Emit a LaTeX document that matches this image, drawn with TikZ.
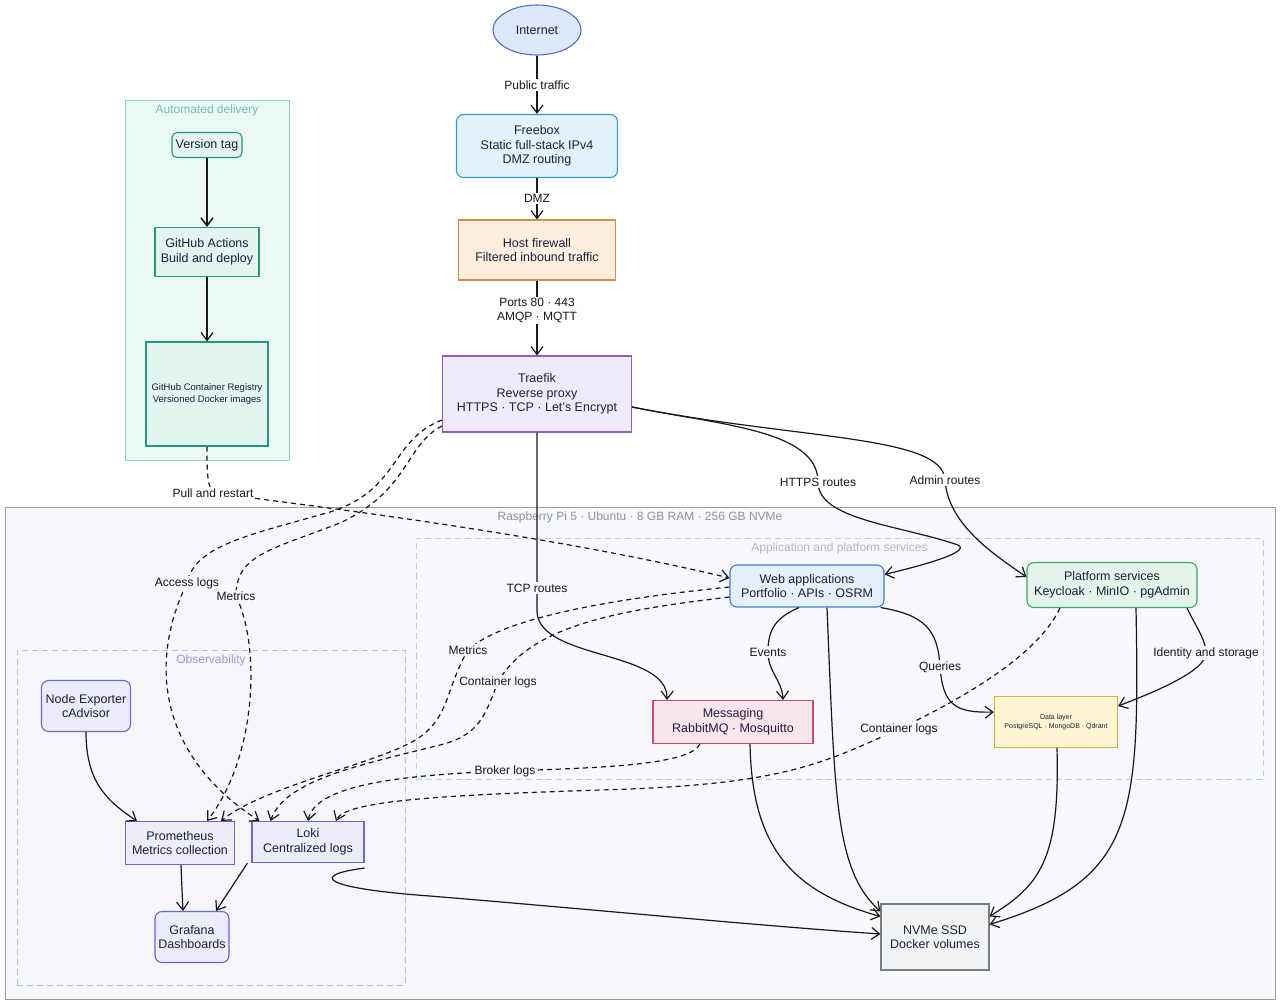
\documentclass[tikz,border=0pt]{standalone}
\usepackage{fontspec}
\setmainfont{Liberation Sans}
\usepackage{tikz}
\usetikzlibrary{positioning,arrows.meta,shapes.geometric}
\definecolor{InkNavy}{RGB}{30,30,62}
\definecolor{InkLine}{RGB}{24,24,24}
\definecolor{InetFill}{RGB}{222,232,250}
\definecolor{InetDraw}{RGB}{80,110,210}
\definecolor{FreeFill}{RGB}{226,243,251}
\definecolor{FreeDraw}{RGB}{55,155,200}
\definecolor{WallFill}{RGB}{253,238,222}
\definecolor{WallDraw}{RGB}{217,140,80}
\definecolor{ProxyFill}{RGB}{240,234,253}
\definecolor{ProxyDraw}{RGB}{140,95,200}
\definecolor{CiFill}{RGB}{236,248,245}
\definecolor{CiDraw}{RGB}{145,212,199}
\definecolor{CiTitle}{RGB}{110,195,178}
\definecolor{CiNode}{RGB}{226,245,240}
\definecolor{CiEdge}{RGB}{40,150,128}
\definecolor{PiFill}{RGB}{246,248,251}
\definecolor{PiDraw}{RGB}{150,160,176}
\definecolor{PiTitle}{RGB}{140,148,162}
\definecolor{AppDraw}{RGB}{200,204,212}
\definecolor{AppTitle}{RGB}{180,184,192}
\definecolor{ObsFill}{RGB}{245,246,252}
\definecolor{ObsDraw}{RGB}{185,188,220}
\definecolor{ObsTitle}{RGB}{155,155,215}
\definecolor{WebFill}{RGB}{229,240,251}
\definecolor{WebDraw}{RGB}{65,125,205}
\definecolor{PlatFill}{RGB}{228,244,234}
\definecolor{PlatDraw}{RGB}{65,165,110}
\definecolor{MsgFill}{RGB}{251,229,236}
\definecolor{MsgDraw}{RGB}{200,75,110}
\definecolor{DataFill}{RGB}{255,245,210}
\definecolor{DataDraw}{RGB}{215,180,65}
\definecolor{DiskFill}{RGB}{241,243,245}
\definecolor{DiskDraw}{RGB}{120,125,132}
\definecolor{MonFill}{RGB}{236,236,251}
\definecolor{MonDraw}{RGB}{105,105,200}

\begin{document}
\begin{tikzpicture}[
    x=1pt,
    y=-1pt,
    font=\fontsize{12.5}{14.5}\selectfont,
    >={Straight Barb[length=8pt,width=12pt]},
    block/.style={
        draw,
        line width=1.1pt,
        align=center,
        text=InkNavy,
        inner sep=2pt
    },
    rblock/.style={
        block,
        rounded corners=7pt
    },
    group/.style={
        draw,
        line width=0.8pt,
        inner sep=0pt
    },
    grouptitle/.style={
        inner sep=0pt,
        font=\fontsize{12}{14}\selectfont
    },
    arrow/.style={
        ->,
        line width=1.2pt,
        draw=InkLine
    },
    dasharrow/.style={
        arrow,
        dash pattern=on 5pt off 4pt
    },
    elabel/.style={
        fill=white,
        inner sep=1.5pt,
        align=center,
        text=InkLine,
        font=\fontsize{12}{14}\selectfont
    },
    plabel/.style={
        elabel,
        fill=PiFill
    }
]

\fill[white] (0,0) rectangle (1280,1005);
\useasboundingbox (0,0) rectangle (1280,1005);

\node[group, fill=CiFill, draw=CiDraw, minimum width=164pt, minimum height=360pt] (delivery) at (207,280) {};
\node[grouptitle, text=CiTitle, below=5pt of delivery.north] (deliverytitle) {Automated delivery};

\node[group, fill=PiFill, draw=PiDraw, line width=1pt, minimum width=1270pt, minimum height=492pt] (pi) at (640,753) {};
\node[grouptitle, text=PiTitle, below=5pt of pi.north] (pititle) {Raspberry Pi 5 · Ubuntu · 8 GB RAM · 256 GB NVMe};

\node[group, dash pattern=on 6pt off 4pt, fill=PiFill, draw=AppDraw, minimum width=847pt, minimum height=241pt] (apps) at (839.5,658.5) {};
\node[grouptitle, text=AppTitle, below=5pt of apps.north] (appstitle) {Application and platform services};

\node[group, dash pattern=on 6pt off 4pt, fill=ObsFill, draw=ObsDraw, minimum width=388pt, minimum height=335pt] (obs) at (211,817.5) {};
\node[grouptitle, text=ObsTitle, below=5pt of obs.north] (obstitle) {Observability};

\node[block, ellipse, fill=InetFill, draw=InetDraw, minimum width=88pt, minimum height=50pt] (inet) at (537,30) {Internet};
\node[rblock, fill=FreeFill, draw=FreeDraw, minimum width=161pt, minimum height=63pt] (fbox) at (537,146) {Freebox\\Static full-stack IPv4\\DMZ routing};
\node[block, fill=WallFill, draw=WallDraw, minimum width=157pt, minimum height=60pt] (fwall) at (537,250) {Host firewall\\Filtered inbound traffic};
\node[block, fill=ProxyFill, draw=ProxyDraw, minimum width=189pt, minimum height=76pt] (traefik) at (537,394) {Traefik\\Reverse proxy\\HTTPS · TCP · Let's Encrypt};

\node[block, rounded corners=5pt, fill=CiNode, draw=CiEdge, minimum width=70pt, minimum height=25pt] (vtag) at (207,145) {Version tag};
\node[block, fill=CiNode, draw=CiEdge, minimum width=104pt, minimum height=49pt] (ghact) at (207,252) {GitHub Actions\\Build and deploy};
\node[block, fill=CiNode, draw=CiEdge, minimum width=122pt, minimum height=104pt, font=\fontsize{9.5}{11.5}\selectfont] (ghcr) at (207,394) {GitHub Container Registry\\Versioned Docker images};

\node[rblock, fill=WebFill, draw=WebDraw, minimum width=154pt, minimum height=42pt] (webapp) at (807,586) {Web applications\\Portfolio · APIs · OSRM};
\node[rblock, fill=PlatFill, draw=PlatDraw, minimum width=170pt, minimum height=45pt] (platform) at (1112,585) {Platform services\\Keycloak · MinIO · pgAdmin};
\node[block, fill=MsgFill, draw=MsgDraw, minimum width=160pt, minimum height=43pt] (msg) at (733,722) {Messaging\\RabbitMQ · Mosquitto};
\node[block, fill=DataFill, draw=DataDraw, minimum width=123pt, minimum height=51pt, font=\fontsize{7}{9}\selectfont] (data) at (1056,722) {Data layer\\PostgreSQL · MongoDB · Qdrant};
\node[block, fill=DiskFill, draw=DiskDraw, minimum width=108pt, minimum height=66pt] (ssd) at (935,937) {NVMe SSD\\Docker volumes};

\node[rblock, fill=MonFill, draw=MonDraw, minimum width=89pt, minimum height=51pt] (nodeexp) at (86,706) {Node Exporter\\cAdvisor};
\node[block, fill=MonFill, draw=MonDraw, minimum width=109pt, minimum height=43pt] (prom) at (180,843) {Prometheus\\Metrics collection};
\node[block, fill=MonFill, draw=MonDraw, minimum width=112pt, minimum height=41pt] (loki) at (308,842) {Loki\\Centralized logs};
\node[rblock, fill=MonFill, draw=MonDraw, minimum width=74pt, minimum height=51pt] (grafana) at (192,937) {Grafana\\Dashboards};

\draw[arrow] (inet) -- node[elabel] (lblpublic) {Public traffic} (fbox);
\draw[arrow] (fbox) -- node[elabel] (lbldmz) {DMZ} (fwall);
\draw[arrow] (fwall) -- node[elabel, pos=0.4] (lblports) {Ports 80 · 443\\AMQP · MQTT} (traefik);

\draw[arrow, line width=1.5pt] (vtag) -- (ghact);
\draw[arrow] (ghact) -- (ghcr);
\draw[dasharrow] (ghcr.south) .. controls (207,470) and (207,485) .. (213,493) node[elabel] (lblpull) {Pull and restart}
    .. controls (330,508) and (550,535) .. ([yshift=8pt]webapp.west);

\draw[arrow] (traefik.south) -- (537,588) node[plabel] (lbltcp) {TCP routes}
    -- (537,612) .. controls (540,660) and (668,650) .. ([xshift=-66pt]msg.north);
\draw[arrow] ([yshift=-13pt]traefik.east) .. controls (720,425) and (818,430) .. (818,482) node[elabel] (lblhttps) {HTTPS routes}
    .. controls (818,520) and (900,525) .. (958,545) .. controls (972,552) and (920,566) .. ([yshift=-10pt]webapp.north east);
\draw[arrow] ([yshift=-13pt]traefik.east) .. controls (800,440) and (943,435) .. (945,480) node[elabel] (lbladmin) {Admin routes}
    .. controls (948,525) and (995,555) .. ([yshift=8pt]platform.west);

\draw[dasharrow] ([yshift=-26pt]traefik.west) .. controls (390,440) and (400,490) .. (330,512)
    .. controls (250,535) and (195,545) .. (187,583) node[plabel] (lblaccess) {Access logs}
    .. controls (145,670) and (165,760) .. ([xshift=8pt]loki.north west);
\draw[dasharrow] ([yshift=-32pt]traefik.west) .. controls (405,445) and (410,490) .. (340,523)
    .. controls (270,550) and (236,555) .. (236,596) node[plabel] (lblmetrics) {Metrics}
    .. controls (262,650) and (255,760) .. ([xshift=27pt]prom.north);

\draw[dasharrow] ([yshift=-1pt]webapp.west) .. controls (600,600) and (500,620) .. (468,650) node[plabel] (lblwebmetrics) {Metrics}
    .. controls (445,690) and (450,715) .. (420,737) .. controls (385,762) and (265,785) .. ([xshift=-14pt]prom.north east);
\draw[dasharrow] ([yshift=-11pt]webapp.west) .. controls (620,610) and (530,625) .. (498,682) node[plabel] (lblweblogs) {Container logs}
    .. controls (485,715) and (480,735) .. (440,745) .. controls (360,765) and (285,780) .. ([xshift=19pt]loki.north west);
\draw[dasharrow] ([xshift=-33pt]msg.south) .. controls (690,765) and (600,768) .. (505,771) node[plabel] (lblbroker) {Broker logs}
    .. controls (400,775) and (315,785) .. (loki.north);
\draw[dasharrow] ([xshift=-52pt]platform.south) .. controls (1040,650) and (980,690) .. (899,729) node[plabel] (lblplatlogs) {Container logs}
    .. controls (820,765) and (780,785) .. (600,790) .. controls (450,795) and (345,800) .. ([xshift=28pt]loki.north);

\draw[arrow] ([xshift=-8pt]webapp.south) .. controls (775,618) and (768,630) .. (768,652) node[plabel] (lblevents) {Events}
    .. controls (768,672) and (782,680) .. ([xshift=50pt]msg.north);
\draw[arrow] ([xshift=-4pt]webapp.south east) .. controls (925,615) and (938,630) .. (940,667) node[plabel] (lblqueries) {Queries}
    .. controls (943,705) and (955,713) .. ([yshift=10pt]data.west);
\draw[arrow] ([xshift=75pt]platform.south) .. controls (1195,625) and (1206,640) .. (1206,653) node[plabel] (lblidentity) {Identity and storage}
    .. controls (1206,670) and (1160,690) .. ([yshift=16pt]data.east);

\draw[arrow] ([xshift=20pt]webapp.south) .. controls (835,800) and (835,870) .. ([yshift=-8pt]ssd.north west);
\draw[arrow] ([xshift=17pt]msg.south) .. controls (752,840) and (785,890) .. ([yshift=-13pt]ssd.north west);
\draw[arrow] ([xshift=1pt]data.south) .. controls (1060,860) and (1040,885) .. ([yshift=-13pt]ssd.north east);
\draw[arrow] ([xshift=24pt]platform.south) .. controls (1140,820) and (1135,880) .. ([yshift=-21pt]ssd.north east);
\draw[arrow] ([yshift=-5pt]loki.south east) .. controls (310,875) and (320,888) .. (430,896)
    .. controls (600,910) and (750,925) .. ([yshift=3pt]ssd.west);

\draw[arrow] (nodeexp.south) .. controls (86,780) and (105,800) .. ([xshift=12pt]prom.north west);
\draw[arrow] ([xshift=1pt]prom.south) .. controls (182,890) .. ([xshift=-9pt]grafana.north);
\draw[arrow] ([xshift=-4pt]loki.south west) -- ([xshift=24pt]grafana.north);

\end{tikzpicture}
\end{document}
